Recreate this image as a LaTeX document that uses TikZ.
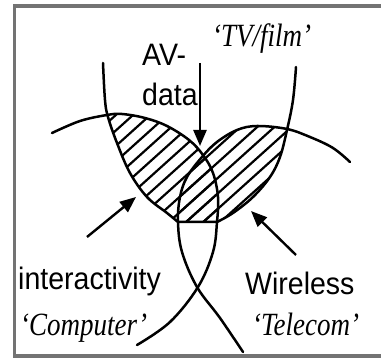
\documentclass[tikz,border=0pt]{standalone}
\usepackage{fontspec}
\setmainfont{Liberation Sans}
\newfontfamily\tnr{Liberation Serif}
\usetikzlibrary{arrows.meta}
\begin{document}
\begin{tikzpicture}[x=1pt,y=-1pt,
  curve/.style={line width=2.5pt, line join=round, line cap=round},
  hatchline/.style={line width=2.2pt},
  arr/.style={line width=2.4pt, -{Triangle[length=16pt,width=13pt]}},
  sanslabel/.style={inner sep=0pt, anchor=base west, xscale=0.92, font=\fontsize{31}{34}\selectfont},
  seriflabel/.style={inner sep=0pt, anchor=base west, yscale=1.2, font=\tnr\itshape\fontsize{27}{30}\selectfont},
  frameline/.style={line width=3.5pt, draw=black!55}]
\useasboundingbox (0,0) rectangle (381,358);
\fill[white] (0,0) rectangle (381,358);
% frame (left, top, bottom)
\draw[frameline] (381,6) -- (14.5,6) -- (14.5,356) -- (381,356);

\def\tvpath{plot[smooth,tension=0.6] coordinates {(103,63) (105,100) (108,117) (117,143) (130,173) (147,197) (167,213) (178,222)} -- plot[smooth,tension=0.6] coordinates {(217,222) (233,213) (253,197) (270,177) (280,157) (287,130) (293,100) (296,67)}}
\def\comppath{plot[smooth,tension=0.6] coordinates {(52,133) (80,121) (107,115) (122,114) (145,118) (167,126) (189,140) (203,155) (213,173) (218,197) (217,222) (213,252) (198,287) (170,322) (137,345)}}
\def\telepath{plot[smooth,tension=0.6] coordinates {(350,162) (333,148) (310,137) (287,129) (257,126) (237,130) (217,142) (202,157) (187,177) (180,197) (178,222) (182,252) (197,287) (220,318) (243,352)}}

% hatching: TV and Computer / TV and Telecom
\begin{scope}
  \clip \tvpath -- (296,0) -- (103,0) -- cycle;
  \begin{scope}
    \clip \comppath -- (137,420) -- (-60,420) -- (-60,133) -- cycle;
    \foreach \c in {140,151.5,...,390}
      \draw[hatchline] ({\c*sin(42)-400*cos(42)},{\c*cos(42)+400*sin(42)}) -- ({\c*sin(42)+400*cos(42)},{\c*cos(42)-400*sin(42)});
  \end{scope}
  \begin{scope}
    \clip \telepath -- (243,420) -- (460,420) -- (460,162) -- cycle;
    \foreach \c in {140,151.5,...,390}
      \draw[hatchline] ({\c*sin(42)-400*cos(42)},{\c*cos(42)+400*sin(42)}) -- ({\c*sin(42)+400*cos(42)},{\c*cos(42)-400*sin(42)});
  \end{scope}
\end{scope}

% outlines
\draw[curve] \tvpath;
\draw[curve] \comppath;
\draw[curve] \telepath;

% labels
\node[sanslabel] (av) at (142,66) {AV-};
\node[sanslabel] (data) at (142,106) {data};
\node[seriflabel] (tv) at (212,47) {‘TV/film’};
\node[sanslabel] (inter) at (18,290) {interactivity};
\node[sanslabel] (wire) at (245,295) {Wireless};
\node[seriflabel] (comp) at (20,336) {‘Computer’};
\node[seriflabel] (tele) at (252,336) {‘Telecom’};

% arrows
\coordinate (avtail) at (200,63);
\coordinate (avtip) at (200,146);
\coordinate (ltail) at (87,237);
\coordinate (ltip) at (136,197);
\coordinate (rtail) at (296,255);
\coordinate (rtip) at (251,211);
\draw[arr] (avtail) -- (avtip);
\draw[arr] (ltail) -- (ltip);
\draw[arr] (rtail) -- (rtip);
\end{tikzpicture}
\end{document}
